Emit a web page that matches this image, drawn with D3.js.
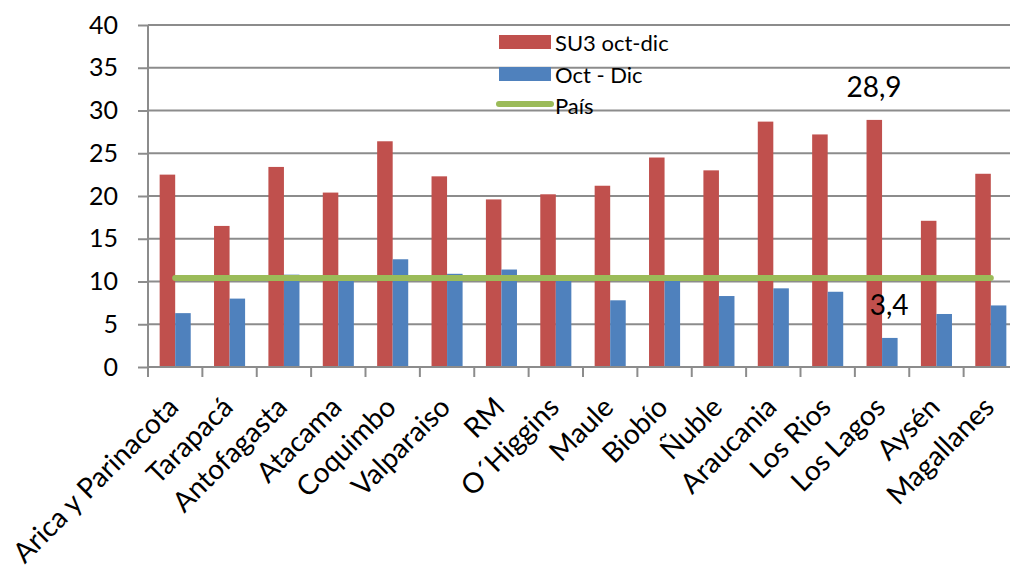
<!DOCTYPE html>
<html>
<head>
<meta charset="utf-8">
<script src="https://cdn.jsdelivr.net/npm/d3@7"></script>
<style>
  body { margin: 0; background: #fff; }
  svg { display: block; }
  svg text { font-family: Lato, "Open Sans", sans-serif; }
</style>
</head>
<body>
<svg id="chart" width="1010" height="569"></svg>
<script>
// data
var regiones = ["Arica y Parinacota", "Tarapacá", "Antofagasta", "Atacama", "Coquimbo",
  "Valparaiso", "RM", "O´Higgins", "Maule", "Biobío", "Ñuble", "Araucania",
  "Los Rios", "Los Lagos", "Aysén", "Magallanes"];
var su3 = [22.5, 16.5, 23.4, 20.4, 26.4, 22.3, 19.6, 20.2, 21.2, 24.5, 23.0, 28.7, 27.2, 28.9, 17.1, 22.6];
var octDic = [6.3, 8.0, 10.8, 10.3, 12.6, 10.9, 11.4, 10.2, 7.8, 10.1, 8.3, 9.2, 8.8, 3.4, 6.2, 7.2];
var pais = 10.4;
var yTicks = [0, 5, 10, 15, 20, 25, 30, 35, 40];
var seriesNames = ["SU3 oct-dic", "Oct - Dic", "País"];

var color = {
  red: "#c0504d",
  blue: "#4f81bd",
  green: "#9bbb59",
  grid: "#8c8c8c"
};

var svg = d3.select("#chart"),
    m = {left: 148, right: 1018, top: 25, bottom: 367};

var x = d3.scaleBand().domain(regiones).range([m.left, m.right]).paddingInner(0).paddingOuter(0);
var y = d3.scaleLinear().domain([0, 40]).range([m.bottom, m.top]);
var bw = x.bandwidth() / 3.5; // gap width 150%

// gridlines
svg.append("g").selectAll("line")
  .data(yTicks.slice(1)).enter()
  .append("line")
    .attr("x1", m.left).attr("x2", m.right)
    .attr("y1", function(d){ return y(d); })
    .attr("y2", function(d){ return y(d); })
    .attr("stroke", color.grid).attr("stroke-width", 2);

// bars
var groups = svg.append("g").selectAll("g")
  .data(regiones).enter()
  .append("g");

groups.append("rect")
  .attr("x", function(d){ return x(d) + bw * 0.75; })
  .attr("y", function(d, i){ return y(su3[i]); })
  .attr("width", bw)
  .attr("height", function(d, i){ return y(0) - y(su3[i]); })
  .attr("fill", color.red);

groups.append("rect")
  .attr("x", function(d){ return x(d) + bw * 1.75; })
  .attr("y", function(d, i){ return y(octDic[i]); })
  .attr("width", bw)
  .attr("height", function(d, i){ return y(0) - y(octDic[i]); })
  .attr("fill", color.blue);

// país line
var paisLine = d3.line()
  .x(function(d){ return x(d) + x.bandwidth() / 2; })
  .y(function(){ return y(pais); });

svg.append("path")
  .datum(regiones)
  .attr("d", paisLine)
  .attr("fill", "none")
  .attr("stroke", color.green)
  .attr("stroke-width", 6)
  .attr("stroke-linecap", "round");

// y axis
var yAxis = svg.append("g")
  .attr("transform", "translate(" + m.left + ",0)")
  .call(d3.axisLeft(y).tickValues(yTicks).tickSize(10).tickPadding(20));
yAxis.selectAll("line, path").attr("stroke", color.grid).attr("stroke-width", 2);
yAxis.select(".domain").attr("d", "M0," + m.top + "V" + m.bottom);
yAxis.attr("font-family", null);
yAxis.selectAll("text").attr("font-size", 25).attr("fill", "#000");

// x axis
var xAxis = svg.append("g")
  .attr("transform", "translate(0," + m.bottom + ")");
xAxis.append("path")
  .attr("d", "M" + m.left + ",0H" + m.right)
  .attr("stroke", color.grid).attr("stroke-width", 2);
xAxis.selectAll("line.sep")
  .data(regiones).enter()
  .append("line").attr("class", "sep")
    .attr("x1", function(d){ return x(d); })
    .attr("x2", function(d){ return x(d); })
    .attr("y1", 0).attr("y2", 10)
    .attr("stroke", color.grid).attr("stroke-width", 2);

xAxis.selectAll("text.lbl")
  .data(regiones).enter()
  .append("text").attr("class", "lbl")
    .attr("transform", function(d){
      return "translate(" + (x(d) + x.bandwidth() / 2 + 5) + ",42) rotate(-45)";
    })
    .attr("text-anchor", "end")
    .attr("font-size", 28)
    .attr("fill", "#000")
    .text(function(d){ return d; });

// data labels
var iLagos = regiones.indexOf("Los Lagos");
var cLagos = x("Los Lagos") + x.bandwidth() / 2;
svg.append("text")
  .attr("x", cLagos - 8)
  .attr("y", 97)
  .attr("text-anchor", "middle")
  .attr("font-size", 28)
  .text(String(su3[iLagos]).replace(".", ","));
svg.append("text")
  .attr("x", cLagos + 7)
  .attr("y", 315)
  .attr("text-anchor", "middle")
  .attr("font-size", 28)
  .text(String(octDic[iLagos]).replace(".", ","));

// legend
var legend = svg.append("g").attr("transform", "translate(499,0)");
legend.append("rect").attr("x", 0).attr("y", 35).attr("width", 52).attr("height", 14).attr("fill", color.red);
legend.append("rect").attr("x", 0).attr("y", 67).attr("width", 52).attr("height", 14).attr("fill", color.blue);
legend.append("line").attr("x1", 0).attr("x2", 52).attr("y1", 104).attr("y2", 104)
  .attr("stroke", color.green).attr("stroke-width", 6).attr("stroke-linecap", "round");
legend.selectAll("text.leg")
  .data(seriesNames).enter()
  .append("text").attr("class", "leg")
    .attr("x", 56)
    .attr("y", function(d, i){ return 51 + i * 31.5; })
    .attr("font-size", 22)
    .text(function(d){ return d; });
</script>
</body>
</html>
